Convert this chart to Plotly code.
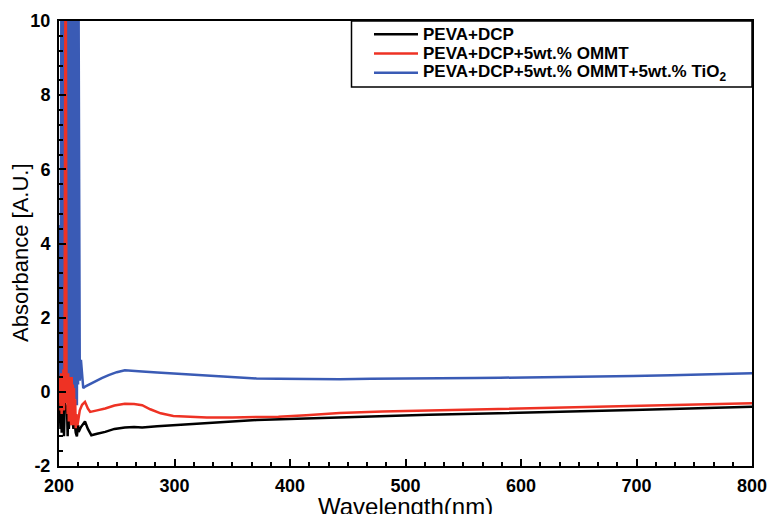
import plotly.graph_objects as go

# ---------------- data ----------------
series_names = [
    "PEVA+DCP",
    "PEVA+DCP+5wt.% OMMT",
    "PEVA+DCP+5wt.% OMMT+5wt.% TiO<sub>2</sub>",
]
series_colors = ["#000000", "#ee3224", "#3a5bb5"]

black_wl = [200.3, 200.8, 201.3, 201.8, 202.3, 202.8, 203.3, 203.8, 204.3, 205, 206, 207,
            207.5, 208.0, 208.5, 209.5, 210.5, 211.5, 212.5, 213.5, 214.5, 215.5, 216.5,
            217.0, 219.0, 222.5, 225, 228, 233, 240, 248, 257, 265, 272, 285, 299, 328,
            350, 371, 390, 414, 443, 480, 520, 550, 582, 620, 660, 697, 730, 760, 800]
black_abs = [0.0, -0.3, -1.0, -0.1, -1.1, 0.0, -0.9, -0.2, -1.2, -0.3, -0.4, -0.5,
             -1.2, -0.4, -1.0, -0.6, -0.8, -0.7, -1.0, -0.8, -1.1, -1.2, -0.9,
             -1.08, -0.95, -0.8, -1.0, -1.17, -1.13, -1.08, -1.0, -0.96, -0.95, -0.96, -0.93, -0.9, -0.83,
             -0.8, -0.76, -0.74, -0.72, -0.69, -0.65, -0.62, -0.6, -0.58, -0.55, -0.52, -0.49, -0.46, -0.43, -0.4]

red_wl = [200.3, 200.8, 201.3, 201.8, 202.3, 202.8, 203.3, 203.8, 204.3, 204.8, 205.5, 206.0,
          206.5, 207.0, 207.5, 208.0, 208.5, 209.0, 209.5, 210.0, 210.5, 211.0, 211.5, 212.0,
          212.5, 213.0, 213.5, 214.0, 214.5, 215.0, 216.0, 217.0, 218.0, 220.0, 222.5, 225,
          227, 233, 240, 248, 257, 265, 272, 279, 288, 299, 315, 328, 350, 371, 390, 414,
          443, 480, 520, 550, 582, 620, 660, 697, 730, 760, 800]
red_abs = [-0.3, 0.4, -0.5, 0.5, -0.6, 0.3, -0.4, 0.6, -0.5, 0.4, 10, 10,
           -0.3, 0.5, -0.6, 0.5, -0.8, 0.4, -0.7, 0.3, -0.9, 0.4, -0.6, 0.2,
           -0.9, 0.1, -0.7, -0.2, -0.98, -0.6, -0.9, -0.7, -0.5, -0.35, -0.27, -0.45,
           -0.54, -0.5, -0.45, -0.37, -0.32, -0.33, -0.36, -0.47, -0.58, -0.65, -0.68, -0.69, -0.69, -0.69, -0.67, -0.63,
           -0.57, -0.53, -0.5, -0.48, -0.47, -0.44, -0.41, -0.38, -0.35, -0.33, -0.31]

blue_wl = [200.3, 200.6, 201.0, 201.5, 202.0, 202.5, 203.0, 203.5, 204.0, 204.5, 205.0, 205.5,
           206.0, 206.5, 207.0, 207.5, 208.0, 208.5, 209.0, 209.5, 210.0, 210.5, 211.0, 211.5,
           212.0, 212.5, 213.0, 213.5, 214.0, 214.5, 215.0, 215.5, 216.0, 216.5, 217.0, 217.5,
           218.0, 219.0, 220.0, 221.0, 223, 226, 231, 237, 243, 250, 257, 265, 272, 285, 295,
           310, 325, 342, 357, 371, 390, 414, 443, 470, 500, 530, 560, 582, 620, 660, 697,
           730, 760, 800]
blue_abs = [0.0, 4.5, 0.2, 3.0, 10, 0.4, 10, 0.1, 10, 0.5, 10, -0.1,
            10, 0.3, 10, 0.0, 10, 0.4, 10, -0.2, 10, 0.2, 10, -0.3,
            10, 0.1, 10, -0.2, 10, 0.3, 10, -0.36, 6.3, 0.2, 10, 0.6,
            0.3, 0.86, 0.3, 0.1, 0.15, 0.2, 0.27, 0.37, 0.45, 0.53, 0.58, 0.57, 0.55, 0.52, 0.5,
            0.47, 0.44, 0.41, 0.38, 0.36, 0.35, 0.34, 0.34, 0.35, 0.35, 0.36, 0.37, 0.38, 0.39, 0.41, 0.43,
            0.45, 0.47, 0.5]

x_ticks = [200, 300, 400, 500, 600, 700, 800]
y_ticks = [-2, 0, 2, 4, 6, 8, 10]

# ---------------- figure ----------------
fig = go.Figure()
for wl, ab, col in [(black_wl, black_abs, series_colors[0]),
                    (blue_wl, blue_abs, series_colors[2]),
                    (red_wl, red_abs, series_colors[1])]:
    fig.add_trace(go.Scatter(x=wl, y=ab, mode="lines",
                             line=dict(color=col, width=2.5),
                             showlegend=False, hoverinfo="skip"))

FONT = "Liberation Sans, Arial, Helvetica, sans-serif"

axis_common = dict(showgrid=False, zeroline=False, showline=True, linecolor="black",
                   linewidth=2, mirror=True, ticks="inside", tickcolor="black",
                   tickwidth=2, ticklen=7, automargin=False,
                   tickfont=dict(family=FONT, size=18, color="black", weight="bold"))

fig.update_xaxes(range=[200, 800], tickvals=x_ticks, ticktext=[str(v) for v in x_ticks],
                 minor=dict(dtick=100 / 6, ticks="inside", ticklen=4, tickwidth=1.5,
                            tickcolor="black"),
                 ticklabelstandoff=2, **axis_common)
fig.update_yaxes(range=[-2, 10], tickvals=y_ticks, ticktext=[str(v) for v in y_ticks],
                 minor=dict(dtick=0.4, ticks="inside", ticklen=4, tickwidth=1.5,
                            tickcolor="black"),
                 ticklabelstandoff=3, **axis_common)

L, R, T, B = 59, 17, 21, 48
W, H = 769, 514
pw, ph = W - L - R, H - T - B


def px(xpix):
    return (xpix - L) / pw


def py(ypix):
    return (H - B - ypix) / ph


shapes = [dict(type="rect", xref="paper", yref="paper", x0=px(351.5), x1=px(752),
               y0=py(87), y1=py(21), line=dict(color="black", width=1.5),
               fillcolor="white", layer="above")]
annotations = []
rows_y = [34.3, 53.5, 72.7]
for i, yy in enumerate(rows_y):
    shapes.append(dict(type="line", xref="paper", yref="paper", x0=px(374), x1=px(418),
                       y0=py(yy), y1=py(yy), line=dict(color=series_colors[i], width=2.5),
                       layer="above"))
    annotations.append(dict(xref="paper", yref="paper", x=px(421), y=py(yy),
                            xanchor="left", yanchor="middle", showarrow=False,
                            text=series_names[i],
                            font=dict(family=FONT, size=17, color="black", weight="bold")))

annotations.append(dict(xref="paper", yref="paper", x=0.5, y=py(506), xanchor="center",
                        yanchor="middle", showarrow=False, text="Wavelength(nm)",
                        font=dict(family=FONT, size=24, color="black")))
annotations.append(dict(xref="paper", yref="paper", x=px(20), y=py(253), xanchor="center",
                        yanchor="middle", showarrow=False, text="Absorbance [A.U.]",
                        textangle=-90,
                        font=dict(family=FONT, size=22, color="black")))

fig.update_layout(width=W, height=H, margin=dict(l=L, r=R, t=T, b=B, autoexpand=False),
                  paper_bgcolor="white", plot_bgcolor="white",
                  shapes=shapes, annotations=annotations, showlegend=False)

fig.write_html("out.html", config={"displayModeBar": False})
